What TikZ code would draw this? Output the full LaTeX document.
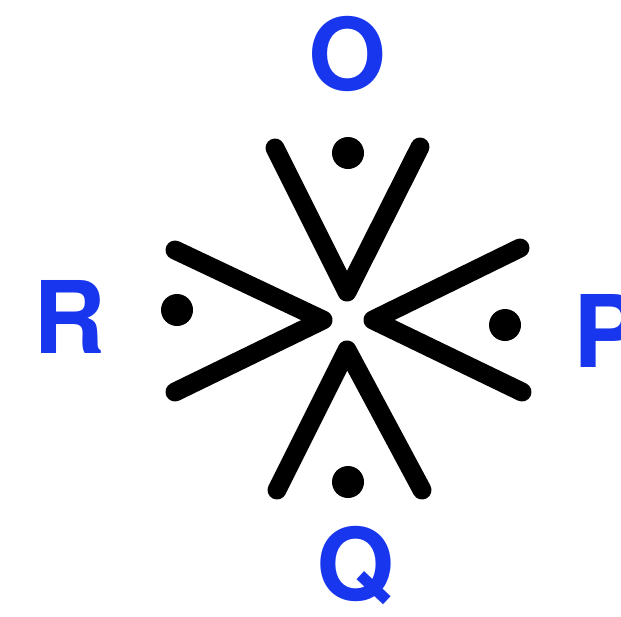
\documentclass[tikz,border=0pt]{standalone}
\usepackage{fontspec}
\setmainfont{TeX Gyre Heros}
\usepackage{tikz}
\usetikzlibrary{positioning, calc}
\definecolor{myblue}{RGB}{24,54,238}
\definecolor{mydark}{RGB}{0,0,0}
\tikzset{
  letter/.style={anchor=base, text=myblue, inner sep=0pt,
    font=\fontsize{57}{60}\selectfont\bfseries},
  wedge/.style={line width=10.8pt, color=mydark, line cap=round, line join=round},
  spot/.style={fill=mydark}
}
\begin{document}
\begin{tikzpicture}
  \useasboundingbox (0,0) rectangle (12.42,-12.32);
  % Wedge apexes and ends
  \coordinate (otip) at (6.94,-5.84);
  \coordinate (oa) at (5.50,-2.96);
  \coordinate (ob) at (8.40,-2.94);
  \coordinate (rtip) at (6.46,-6.40);
  \coordinate (ra) at (3.50,-5.00);
  \coordinate (rb) at (3.50,-7.84);
  \coordinate (ptip) at (7.46,-6.40);
  \coordinate (pa) at (10.40,-4.96);
  \coordinate (pb) at (10.44,-7.84);
  \coordinate (qtip) at (6.94,-7.00);
  \coordinate (qa) at (5.54,-9.80);
  \coordinate (qb) at (8.44,-9.80);
  % Wedges
  \draw[wedge] (oa) -- (otip) -- (ob);
  \draw[wedge] (ra) -- (rtip) -- (rb);
  \draw[wedge] (pa) -- (ptip) -- (pb);
  \draw[wedge] (qa) -- (qtip) -- (qb);
  % Dots
  \fill[spot] (6.96,-3.06) circle (0.32);
  \fill[spot] (3.54,-6.20) circle (0.32);
  \fill[spot] (10.10,-6.50) circle (0.32);
  \fill[spot] (6.96,-9.64) circle (0.32);
  % Labels
  \node[letter] (olab) at (6.94,-1.80) {O};
  \node[letter] (rlab) at (1.40,-7.06) {R};
  \node[letter] (plab) at (12.14,-7.34) {P};
  \node[letter] (qlab) at (7.10,-12.00) {Q};
\end{tikzpicture}
\end{document}
